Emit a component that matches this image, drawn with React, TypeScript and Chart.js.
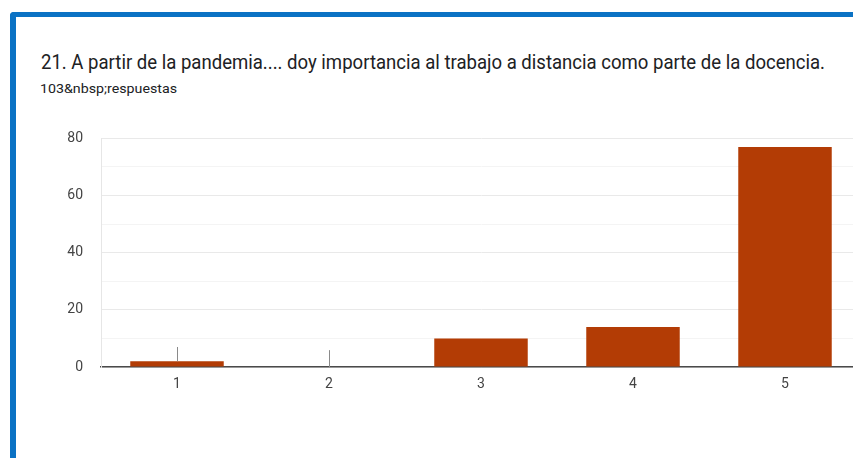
import React, { useEffect, useRef } from "react";
import { Chart, registerables } from "chart.js";

Chart.register(...registerables);

const categories = ["1", "2", "3", "4", "5"];
const responses = [2, 0, 10, 14, 77];
const yTickValues = [0, 20, 40, 60, 80];
const guideTops = [7, 5.9];

const TITLE = "21. A partir de la pandemia.... doy importancia al trabajo a distancia como parte de la docencia.";
const SUBTITLE = "103&nbsp;respuestas";

const guidePlugin = {
  id: "guides",
  afterDatasetsDraw(chart: any) {
    const { ctx, scales } = chart;
    const x = scales.x;
    const y = scales.y;
    ctx.save();
    ctx.strokeStyle = "#8a8a8a";
    ctx.lineWidth = 1;
    guideTops.forEach((top, i) => {
      const px = Math.round(x.getPixelForValue(i)) + 0.5;
      ctx.beginPath();
      ctx.moveTo(px, y.getPixelForValue(top));
      ctx.lineTo(px, y.getPixelForValue(responses[i]));
      ctx.stroke();
    });
    ctx.restore();
  },
};

export default function App() {
  const canvasRef = useRef<HTMLCanvasElement | null>(null);
  const titleRef = useRef<HTMLSpanElement | null>(null);
  const subRef = useRef<HTMLSpanElement | null>(null);

  useEffect(() => {
    const fit = (el: HTMLSpanElement | null, target: number) => {
      if (!el) return;
      el.style.transform = "none";
      const w = el.getBoundingClientRect().width;
      if (w > 0) el.style.transform = `scaleX(${target / w})`;
    };
    fit(titleRef.current, 784);
    fit(subRef.current, 137);

    const canvas = canvasRef.current;
    if (!canvas) return;
    const chart = new Chart(canvas, {
      type: "bar",
      data: {
        labels: categories,
        datasets: [
          {
            data: responses,
            backgroundColor: "#b33c05",
            borderWidth: 0,
            barPercentage: 0.615,
            categoryPercentage: 1,
          },
        ],
      },
      options: {
        responsive: false,
        animation: false,
        layout: { padding: { top: 10, right: 19, left: 0, bottom: 0 } },
        plugins: { legend: { display: false }, tooltip: { enabled: false } },
        scales: {
          x: {
            grid: { display: false, drawTicks: false },
            border: { display: true, color: "#4a4a4a", width: 1.5 },
            ticks: {
              color: "#444",
              font: { family: "Roboto", size: 14 },
              padding: 9,
            },
            afterFit: (s: any) => {
              s.height = 30;
            },
          },
          y: {
            min: 0,
            max: 80,
            ticks: {
              stepSize: 10,
              autoSkip: false,
              color: "#444",
              font: { family: "Roboto", size: 14 },
              padding: 18,
              callback: (v: any) => (yTickValues.includes(Number(v)) ? String(v) : ""),
            },
            grid: {
              drawTicks: false,
              color: (c: any) =>
                c.tick && yTickValues.includes(c.tick.value) ? "#e9e9e9" : "#f4f4f4",
              lineWidth: 1,
            },
            border: { display: true, color: "#e6e6e6", width: 1 },
            afterFit: (s: any) => {
              s.width = 101;
            },
          },
        },
      },
      plugins: [guidePlugin],
    });
    return () => chart.destroy();
  }, []);

  return (
    <div
      style={{
        position: "fixed",
        left: 0,
        top: 0,
        width: 853,
        height: 458,
        overflow: "hidden",
        background: "#fff",
      }}
    >
      <div
        style={{
          position: "absolute",
          left: 10,
          top: 12,
          width: 1000,
          height: 600,
          borderTop: "5px solid #0b72c4",
          borderLeft: "6px solid #0b72c4",
          borderTopLeftRadius: 4,
          boxSizing: "border-box",
        }}
      />
      <div
        style={{
          position: "absolute",
          left: 41,
          top: 52,
          whiteSpace: "nowrap",
          fontFamily: "Roboto, sans-serif",
          fontSize: 20,
          lineHeight: "20px",
          color: "#202124",
        }}
      >
        <span ref={titleRef} style={{ display: "inline-block", transformOrigin: "left top" }}>
          {TITLE}
        </span>
      </div>
      <div
        style={{
          position: "absolute",
          left: 40,
          top: 82,
          whiteSpace: "nowrap",
          fontFamily: "Roboto, sans-serif",
          fontSize: 13,
          lineHeight: "13px",
          color: "#202124",
        }}
      >
        <span ref={subRef} style={{ display: "inline-block", transformOrigin: "left top" }}>
          {SUBTITLE}
        </span>
      </div>
      <canvas
        ref={canvasRef}
        width={880}
        height={285}
        style={{ position: "absolute", left: 0, top: 112, width: 880, height: 285 }}
      />
    </div>
  );
}
